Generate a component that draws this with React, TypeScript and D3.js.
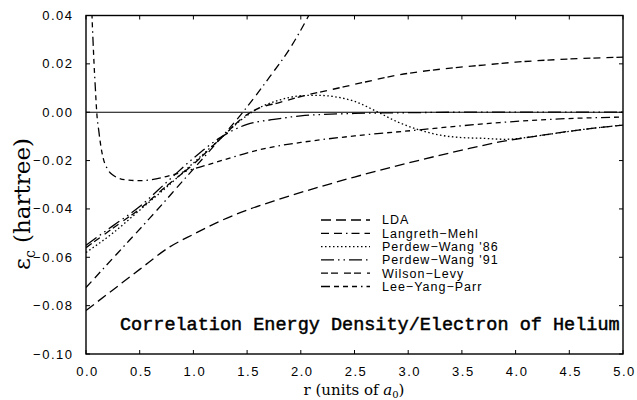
import React from "react";
import * as d3 from "d3";

// ---- data (r in units of a0, eps_c in hartree) ----
const xTicks = [0, 0.5, 1, 1.5, 2, 2.5, 3, 3.5, 4, 4.5, 5];
const yTicks = [0.04, 0.02, 0, -0.02, -0.04, -0.06, -0.08, -0.1];

const seriesNames = ["LDA", "Langreth\u2212Mehl", "Perdew\u2212Wang '86", "Perdew\u2212Wang '91", "Wilson\u2212Levy", "Lee\u2212Yang\u2212Parr"];

const ldaR = [0, 0.25, 0.5, 0.78, 1.0, 1.25, 1.53, 1.8, 2.15, 2.5, 3.0, 3.5, 3.85, 4.25, 4.6, 5.0];
const ldaE = [-0.082, -0.0735, -0.065, -0.0557, -0.0505, -0.045, -0.04, -0.036, -0.0312, -0.0268, -0.021, -0.0157, -0.0123, -0.0095, -0.0073, -0.0053];

const lmR = [0, 0.3, 0.6, 0.9, 1.2, 1.46, 1.71, 1.9, 2.05, 2.12];
const lmE = [-0.0725, -0.058, -0.0435, -0.0285, -0.0135, 0.0, 0.0146, 0.0265, 0.038, 0.044];

const pw86R = [0, 0.25, 0.5, 0.75, 1.0, 1.25, 1.45, 1.6, 1.8, 2.0, 2.15, 2.3, 2.5, 2.72, 2.9, 3.08, 3.3, 3.5, 3.7, 3.9, 4.25, 4.6, 5.0];
const pw86E = [-0.058, -0.05, -0.0405, -0.031, -0.021, -0.011, -0.003, 0.0015, 0.005, 0.0068, 0.007, 0.0065, 0.0045, 0.0, -0.004, -0.007, -0.0095, -0.0105, -0.0108, -0.0112, -0.0095, -0.0073, -0.0053];

const pw91R = [0, 0.25, 0.5, 0.75, 1.0, 1.25, 1.5, 1.75, 2.0, 2.5, 3.0, 3.5, 4.0, 5.0];
const pw91E = [-0.055, -0.047, -0.039, -0.029, -0.019, -0.0105, -0.005, -0.003, -0.0015, -0.0005, -0.0002, 0.0, 0.0, 0.0];

const wlR = [0, 0.25, 0.5, 0.75, 1.0, 1.25, 1.5, 1.6, 1.8, 2.0, 2.3, 2.6, 2.92, 3.3, 3.7, 4.0, 4.5, 5.0];
const wlE = [-0.056, -0.048, -0.04, -0.0305, -0.0215, -0.011, -0.001, 0.0015, 0.004, 0.0065, 0.0095, 0.0125, 0.0155, 0.0178, 0.0195, 0.0207, 0.022, 0.0228];

const lypR = [0.05, 0.056, 0.065, 0.075, 0.087, 0.1, 0.12, 0.14, 0.16, 0.2, 0.25, 0.3, 0.4, 0.5, 0.6, 0.8, 1.06, 1.3, 1.53, 1.71, 2.0, 2.5, 3.08, 3.5, 3.85, 4.3, 5.0];
const lypE = [0.05, 0.04, 0.03, 0.02, 0.01, 0.0, -0.008, -0.0145, -0.019, -0.0235, -0.026, -0.0272, -0.0281, -0.0283, -0.028, -0.026, -0.0227, -0.0195, -0.0165, -0.0146, -0.0125, -0.0098, -0.0074, -0.0056, -0.0043, -0.003, -0.002];

const seriesR = [ldaR, lmR, pw86R, pw91R, wlR, lypR];
const seriesE = [ldaE, lmE, pw86E, pw91E, wlE, lypE];
const dashes = ["10,5", "8,5,8,4,1.5,4", "1.5,2.5", "13,4,1.5,4,1.5,4", "7,3,7,6", "9,4,5,4,5,4,5,4,1.5,4"];

const W = 637, H = 400;
const L = 86, R = 623, T = 15.5, B = 354;

export default function App() {
  const x = d3.scaleLinear().domain([0, 5]).range([L, R]);
  const y = d3.scaleLinear().domain([-0.1, 0.04]).range([B, T]);
  const line = d3.line<[number, number]>().x(d => x(d[0])).y(d => y(d[1])).curve(d3.curveMonotoneX);

  const legendY0 = 220, legendDy = 13.3;

  return (
    <svg width={W} height={H} style={{ position: "absolute", left: 0, top: 0, background: "#fff" }}>
      <defs>
        <clipPath id="plot"><rect x={L} y={T} width={R - L} height={B - T} /></clipPath>
      </defs>
      <rect x={0} y={0} width={W} height={H} fill="#fff" />
      {/* zero line */}
      <line x1={L} x2={R} y1={y(0)} y2={y(0)} stroke="#000" strokeWidth={1.1} />
      {/* curves */}
      <g clipPath="url(#plot)" fill="none" stroke="#000" strokeWidth={1.3}>
        {seriesR.map((rs, i) => (
          <path key={i} d={line(rs.map((r, j) => [r, seriesE[i][j]] as [number, number])) || ""} strokeDasharray={dashes[i]} />
        ))}
      </g>
      {/* frame */}
      <rect x={L} y={T} width={R - L} height={B - T} fill="none" stroke="#000" strokeWidth={1.4} />
      {/* ticks */}
      <g stroke="#000" strokeWidth={1}>
        {xTicks.map(t => (
          <g key={"x" + t}>
            <line x1={x(t)} x2={x(t)} y1={B} y2={B - 4} />
            <line x1={x(t)} x2={x(t)} y1={T} y2={T + 4} />
          </g>
        ))}
        {yTicks.map(t => (
          <g key={"y" + t}>
            <line x1={L} x2={L + 4} y1={y(t)} y2={y(t)} />
            <line x1={R} x2={R - 4} y1={y(t)} y2={y(t)} />
          </g>
        ))}
      </g>
      <g fontFamily="Liberation Sans, Arial, sans-serif" fontSize={13} letterSpacing={1.5} fill="#000">
        {xTicks.map(t => (
          <text key={"xl" + t} x={x(t) + 1.5} y={376} textAnchor="middle">{t.toFixed(1)}</text>
        ))}
        {yTicks.map(t => (
          <text key={"yl" + t} x={73.5} y={y(t) + 4.5} textAnchor="end">{t === 0 ? "0.00" : (t < 0 ? "\u2212" : "") + Math.abs(t).toFixed(2)}</text>
        ))}
      </g>
      {/* axis titles */}
      <text x={354} y={395} textAnchor="middle" fontFamily="DejaVu Serif, serif" fontSize={15}>
        r (units of <tspan fontStyle="italic">a</tspan><tspan fontSize={10} dy={2.5}>0</tspan><tspan dy={-2.5}>)</tspan>
      </text>
      <text transform="translate(30,204) rotate(-90)" textAnchor="middle" fontFamily="DejaVu Serif, serif" fontSize={23}>
        ε<tspan fontSize={14} dy={5}>c</tspan><tspan dy={-5}> (hartree)</tspan>
      </text>
      {/* legend */}
      <g fontFamily="Liberation Sans, Arial, sans-serif" fontSize={12.5} letterSpacing={1} fill="#000">
        {seriesNames.map((n, i) => (
          <g key={n}>
            <line x1={321} x2={370} y1={legendY0 + i * legendDy} y2={legendY0 + i * legendDy} stroke="#000" strokeWidth={1.3} strokeDasharray={dashes[i]} />
            <text x={382} y={legendY0 + i * legendDy + 4.3}>{n}</text>
          </g>
        ))}
      </g>
      {/* title */}
      <text x={120} y={330} fontFamily="Liberation Mono, Courier New, monospace" fontSize={18.5} stroke="#000" strokeWidth={0.5}>Correlation Energy Density/Electron of Helium</text>
    </svg>
  );
}
